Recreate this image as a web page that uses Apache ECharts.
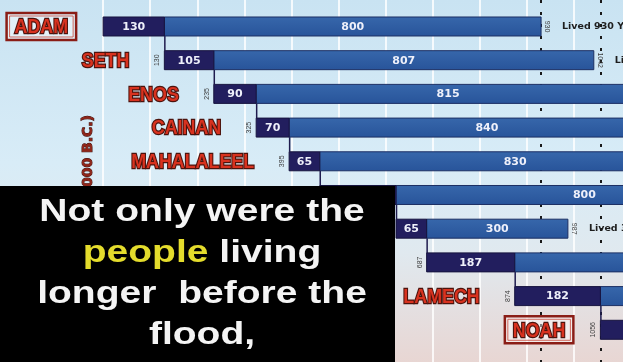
<!DOCTYPE html>
<html>
<head>
<meta charset="utf-8">
<script src="https://cdn.jsdelivr.net/npm/echarts@6/dist/echarts.min.js"></script>
<style>
  html, body { margin: 0; padding: 0; background: #fff; }
  #chart { width: 623px; height: 362px; }
</style>
</head>
<body>
<div id="chart"></div>
<script>
// Patriarchs before the flood, years counted from creation
const names      = ['ADAM', 'SETH', 'ENOS', 'CAINAN', 'MAHALALEEL', 'JARED', 'ENOCH', 'METHUSELAH', 'LAMECH', 'NOAH'];
const births     = [0, 130, 235, 325, 395, 460, 622, 687, 874, 1056];
const ageAtSon   = [130, 105, 90, 70, 65, 162, 65, 187, 182, 500];
const yearsAfter = [800, 807, 815, 840, 830, 800, 300, 782, 595, 450];
const boxedNames = ['ADAM', 'NOAH'];
const gridYears  = [0, 100, 200, 300, 400, 500, 600, 700, 800, 900, 1000];
const markerYears = [930, 1056];

const NAME_FONT = 'bold 21px "Liberation Sans", Arial, sans-serif';
const measureCtx = document.createElement('canvas').getContext('2d');
function textWidth(txt, font) { measureCtx.font = font; return measureCtx.measureText(txt).width; }

const chart = echarts.init(document.getElementById('chart'), null, { renderer: 'canvas' });

function renderRow(params, api) {
  const row = api.value(0);
  const birth = api.value(1), begat = api.value(2), rest = api.value(3);
  const name = names[row];
  const pStart = api.coord([birth, row]);
  const pMid = api.coord([birth + begat, row]);
  const pEnd = api.coord([birth + begat + rest, row]);
  const h = 19;
  const top = pStart[1] - h / 2;
  const cy = pStart[1];
  const kids = [];

  // line from the son's birth down to the next bar
  if (row < names.length - 1) {
    const pNext = api.coord([birth + begat, row + 1]);
    kids.push({ type: 'line', shape: { x1: pMid[0] + 0.5, y1: top + h, x2: pMid[0] + 0.5, y2: pNext[1] - h / 2 },
      style: { stroke: '#1e1b4e', lineWidth: 1.5 } });
  }
  // remaining years
  kids.push({ type: 'rect', shape: { x: pMid[0], y: top, width: pEnd[0] - pMid[0], height: h },
    style: { fill: new echarts.graphic.LinearGradient(0, 0, 0, 1, [
      { offset: 0, color: '#3767ab' }, { offset: 1, color: '#28549a' }]), stroke: '#1c2f63', lineWidth: 1 } });
  // years until the son
  kids.push({ type: 'rect', shape: { x: pStart[0], y: top, width: pMid[0] - pStart[0], height: h },
    style: { fill: '#221e5e', stroke: '#17143f', lineWidth: 1 } });

  const valFont = 'bold 11px "DejaVu Sans", sans-serif';
  kids.push({ type: 'text', x: (pStart[0] + pMid[0]) / 2, y: cy + 0.5,
    style: { text: String(begat), fill: '#eef0fa', font: valFont, align: 'center', verticalAlign: 'middle' } });
  kids.push({ type: 'text', x: (pMid[0] + pEnd[0]) / 2, y: cy + 0.5,
    style: { text: String(rest), fill: '#eef0fa', font: valFont, align: 'center', verticalAlign: 'middle' } });

  const smallFont = '7px "Liberation Sans", sans-serif';
  if (birth > 0) {
    kids.push({ type: 'text', x: pStart[0] - 7, y: cy, rotation: Math.PI / 2,
      style: { text: String(birth), fill: '#3c3c3c', font: smallFont, align: 'center', verticalAlign: 'middle' } });
  }
  const death = birth + begat + rest;
  kids.push({ type: 'text', x: pEnd[0] + 6, y: cy, rotation: -Math.PI / 2,
    style: { text: String(death), fill: '#3c3c3c', font: smallFont, align: 'center', verticalAlign: 'middle' } });
  kids.push({ type: 'text', x: pEnd[0] + 21, y: cy,
    style: { text: 'Lived ' + (begat + rest) + ' Years', fill: '#1d1d1d', font: 'bold 9.5px "DejaVu Sans", sans-serif',
      align: 'left', verticalAlign: 'middle' } });

  // patriarch's name
  const nameRight = pStart[0] - 35;
  const sx = 0.85;
  if (boxedNames.indexOf(name) >= 0) {
    const w = textWidth(name, NAME_FONT) * sx;
    kids.push({ type: 'rect', shape: { x: nameRight - w - 8, y: cy - 13.5, width: w + 16, height: 27 },
      style: { fill: 'rgba(255,255,255,0.45)', stroke: '#8a1d16', lineWidth: 2.5 } });
    kids.push({ type: 'rect', shape: { x: nameRight - w - 5, y: cy - 10.5, width: w + 10, height: 21 },
      style: { fill: 'none', stroke: '#c8473a', lineWidth: 0.8 } });
  }
  kids.push({ type: 'text', x: nameRight, y: cy + 1, scaleX: sx,
    style: { text: name, fill: '#d8321f', stroke: '#4c130d', lineWidth: 2.5, strokeFirst: true,
      font: NAME_FONT, align: 'right', verticalAlign: 'middle' } });

  return { type: 'group', children: kids };
}

const rows = names.map((n, i) => [i, births[i], ageAtSon[i], yearsAfter[i]]);

const lineMarks = gridYears.map(y => ({ xAxis: y, lineStyle: { color: 'rgba(255,255,255,0.8)', width: 2, type: 'solid' } }))
  .concat(markerYears.map(y => ({ xAxis: y, lineStyle: { color: '#1a1a1a', width: 2, type: [3, 9] } })));

chart.setOption({
  animation: false,
  backgroundColor: new echarts.graphic.LinearGradient(0, 0, 0, 1, [
    { offset: 0, color: '#c9e3f2' },
    { offset: 0.45, color: '#d8ecf7' },
    { offset: 0.7, color: '#e0e9ef' },
    { offset: 1, color: '#e8d6d3' }
  ]),
  grid: { left: 0, right: 0, top: 0, bottom: 0 },
  xAxis: { type: 'value', min: -219, max: 1104, show: false, splitLine: { show: false } },
  yAxis: { type: 'value', min: -0.786, max: 9.956, inverse: true, show: false, splitLine: { show: false } },
  series: [
    {
      type: 'line', data: [], silent: true, z: 1,
      markLine: { silent: true, symbol: 'none', label: { show: false }, data: lineMarks }
    },
    {
      type: 'custom', renderItem: renderRow, data: rows, z: 5, clip: true,
      encode: { x: [1, 2, 3], y: 0 }
    }
  ],
  graphic: [
    { type: 'text', x: 88, y: 115, rotation: Math.PI / 2, z: 50,
      style: { text: '(4000 B.C.)', fill: '#8e2519', stroke: '#3c0d08', lineWidth: 1, font: 'bold 14px "DejaVu Sans", sans-serif',
        align: 'right', verticalAlign: 'middle' } },
    { type: 'rect', shape: { x: 0, y: 186, width: 395, height: 176 }, style: { fill: '#000' }, z: 100 },
    { type: 'text', x: 202, y: 191.5, scaleX: 1.22, z: 101,
      style: {
        text: '{w|Not only were the}\n{y|people}{w| living}\n{w|longer  before the}\n{w|flood,}',
        align: 'center', verticalAlign: 'top',
        rich: {
          w: { fill: '#f4f4f4', font: 'bold 32px "Liberation Sans", Arial, sans-serif', lineHeight: 41 },
          y: { fill: '#e4dc2c', font: 'bold 32px "Liberation Sans", Arial, sans-serif', lineHeight: 41 }
        }
      } }
  ]
});
</script>
</body>
</html>
